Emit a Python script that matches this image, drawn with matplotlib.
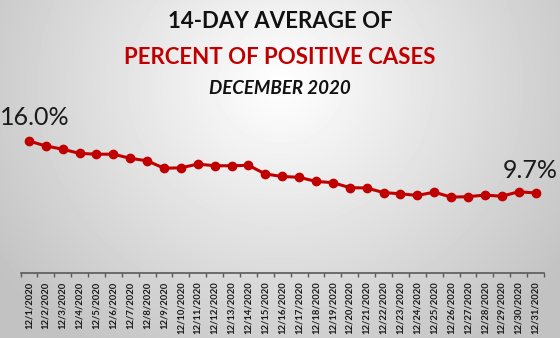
import numpy as np
import matplotlib.pyplot as plt

# data
dates = [f"12/{d}/2020" for d in range(1, 32)]
pct_positive = [16.0, 15.4, 15.0, 14.5, 14.4, 14.4, 13.9, 13.6, 12.7, 12.75,
                13.2, 13.0, 13.0, 13.05, 12.0, 11.7, 11.6, 11.1, 10.95, 10.35,
                10.3, 9.75, 9.6, 9.4, 9.8, 9.2, 9.25, 9.45, 9.3, 9.85, 9.7]
first_label = "16.0%"
last_label = "9.7%"

FONT = "Lato"
W, H = 560, 338
fig = plt.figure(figsize=(W / 100, H / 100), dpi=100)

# radial gradient background
bg = fig.add_axes([0, 0, 1, 1], zorder=-10)
yy, xx = np.mgrid[0:H, 0:W]
r = np.sqrt(((xx - W * 0.5) / (W * 0.62)) ** 2 + ((yy - H * 0.25) / (H * 0.95)) ** 2)
shade = np.clip(1.0 - 0.24 * r, 0.76, 1.0)
bg.imshow(shade, cmap="gray", vmin=0, vmax=1, aspect="auto",
          extent=[0, 1, 0, 1], interpolation="bilinear")
bg.set_axis_off()

# main axes: x axis from px 20 to 544, y=0 at px 273
ax = fig.add_axes([20.5 / W, 1 - 273 / H, (544 - 20.5) / W, (273 - 124.5) / H])
ax.patch.set_alpha(0)
x = np.arange(len(dates))
ax.plot(x, pct_positive, color="#C00000", lw=2.2, marker="o", ms=6,
        mfc="#C00000", mec="#C00000", zorder=3)
ax.set_xlim(-0.5, len(dates) - 0.5)
ax.set_ylim(0, 18)

for s in ["top", "left", "right"]:
    ax.spines[s].set_visible(False)
ax.spines["bottom"].set_color("#595959")
ax.spines["bottom"].set_linewidth(1.2)
ax.set_yticks([])
ax.set_xticks(x)
ax.set_xticklabels(dates, rotation=90, fontsize=6.8, fontweight="bold",
                   color="#1a1a1a", family=FONT)
ax.tick_params(axis="x", which="major", length=0, pad=6)
ax.set_xticks(np.arange(-0.5, len(dates)), minor=True)
ax.tick_params(axis="x", which="minor", length=3, width=1, color="#595959",
               direction="out")

ax.annotate(first_label, (x[0], pct_positive[0]), xytext=(6, 23),
            textcoords="offset pixels", ha="center", va="center",
            fontsize=18, color="#1a1a1a", family=FONT)
ax.annotate(last_label, (x[-1], pct_positive[-1]), xytext=(-5, 22),
            textcoords="offset pixels", ha="center", va="center",
            fontsize=18, color="#1a1a1a", family=FONT)

fig.text(0.5, 1 - 22 / H, "14-DAY AVERAGE OF", ha="center", va="center",
         fontsize=16, fontweight="bold", color="#111111", family=FONT)
fig.text(0.5, 1 - 57 / H, "PERCENT OF POSITIVE CASES", ha="center", va="center",
         fontsize=16, fontweight="bold", color="#C00000", family=FONT)
fig.text(0.5, 1 - 88 / H, "DECEMBER 2020", ha="center", va="center",
         fontsize=13.5, fontweight="bold", style="italic", color="#111111",
         family=FONT)

fig.savefig("out.png", dpi=100)
